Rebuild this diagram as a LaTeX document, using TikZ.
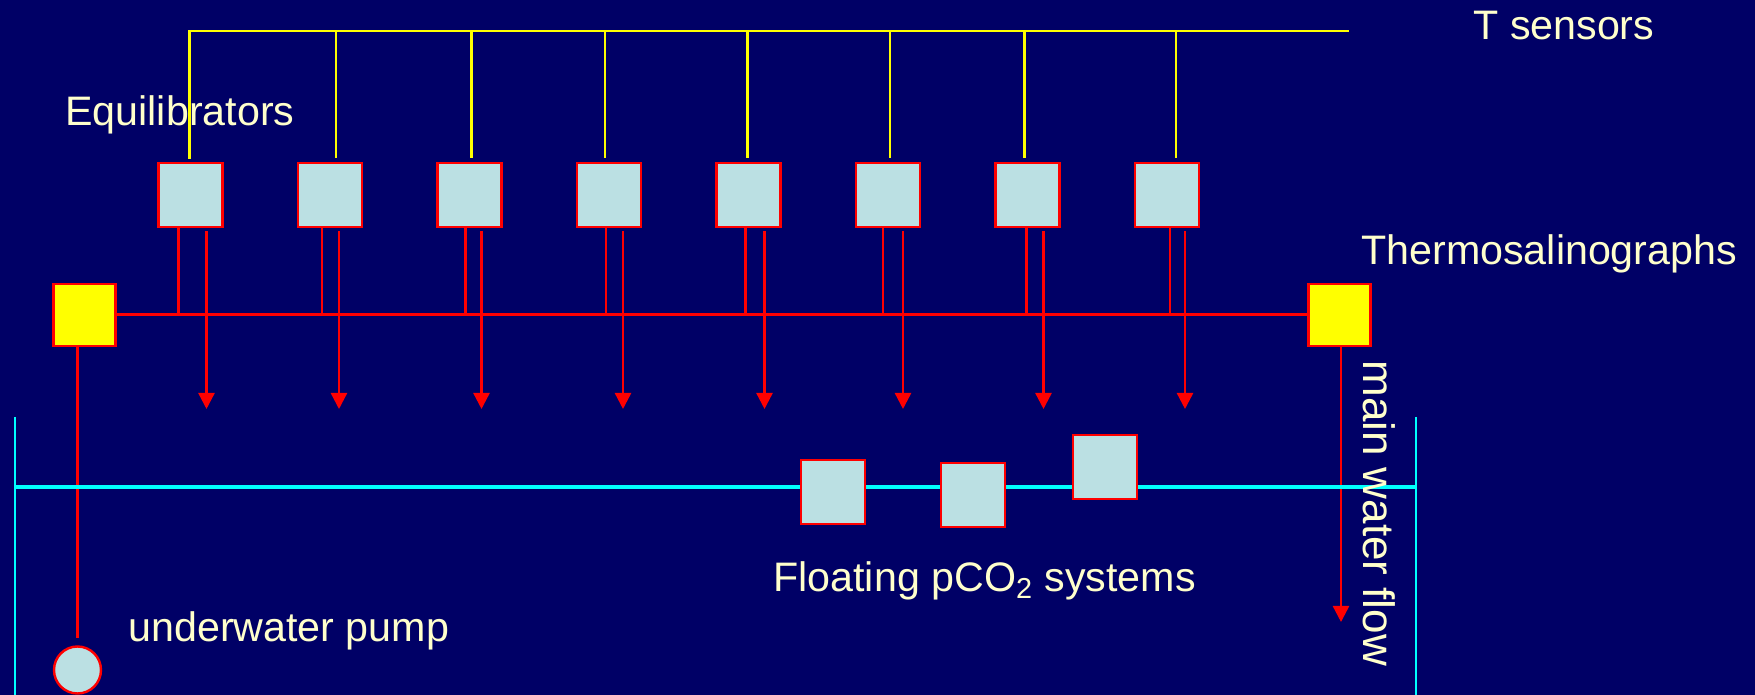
\documentclass[tikz,border=0pt]{standalone}
\usepackage{fontspec}
\setmainfont{Liberation Sans}
\usepackage{tikz}
\usetikzlibrary{arrows.meta}

\definecolor{slide}{RGB}{0,0,102}
\definecolor{boxblue}{RGB}{187,224,227}
\definecolor{cream}{RGB}{255,255,204}
\definecolor{pipered}{RGB}{255,0,0}
\definecolor{sensoryellow}{RGB}{255,255,0}
\definecolor{tankcyan}{RGB}{0,255,255}

\tikzset{
  eqbox/.style={draw=pipered,line width=1.2pt,fill=boxblue,minimum size=32pt,inner sep=0pt},
  tsgbox/.style={draw=pipered,line width=1.2pt,fill=sensoryellow,minimum size=31pt,inner sep=0pt},
  pumpball/.style={circle,draw=pipered,line width=1.2pt,fill=boxblue,minimum size=23.5pt,inner sep=0pt},
  tline/.style={draw=sensoryellow,line width=1.3pt},
  pipe/.style={draw=pipered,line width=1.5pt},
  drop/.style={draw=pipered,line width=1.1pt},
  flow/.style={draw=pipered,line width=1.2pt,-{Triangle[width=8pt,length=8pt]}},
  tank/.style={draw=tankcyan,line width=1.1pt},
  txt/.style={text=cream,anchor=base west,inner sep=0pt}
}

\begin{document}
\begin{tikzpicture}[x=0.5pt,y=0.5pt,font=\fontsize{20.6}{24}\selectfont]
  \fill[slide] (0,0) rectangle (1755,695);
  \useasboundingbox (0,0) rectangle (1755,695);

  % equilibrators and thermosalinographs
  \foreach \i in {1,...,8}{\node[eqbox] (eq\i) at ({51+139.5*\i},500) {};}
  \node[tsgbox] (tsgL) at (84.5,380) {};
  \node[tsgbox] (tsgR) at (1339.5,380) {};
  \node[pumpball] (pump) at (77.5,25) {};

  \coordinate (tbus) at (1349,664);
  \coordinate (drain) at (0,286);
  \coordinate (outlet) at (0,73);

  % T sensors
  \draw[tline] ([xshift=-0.5pt,yshift=1.5pt]eq1.north) |- (tbus);
  \foreach \i/\d in {2/3,3/1,4/-2,5/-0.5,6/1,7/-1.5,8/4.5}
    \draw[tline] ([xshift=\d pt,yshift=2pt]eq\i.north) -- ([xshift=\d pt]eq\i.north |- tbus);

  % water lines
  \draw[pipe] (tsgL.east) -- (tsgR.west);
  \foreach \i/\t/\a in {1/-6/8,2/-4/4.5,3/-2/6,4/-1.5/7,5/-1.5/8,6/-2.5/7.5,7/-0.5/8,8/1.5/9}{
    \draw[drop] ([xshift=\t pt]eq\i.south) -- ([xshift=\t pt]eq\i.south |- tsgL.east);
    \draw[flow] ([xshift=\a pt,yshift=-1.5pt]eq\i.south) -- ([xshift=\a pt]eq\i.south |- drain);
  }
  \draw[pipe] (tsgL.south -| pump) -- ([yshift=3.5pt]pump.north);
  \draw[flow] ([xshift=0.75pt]tsgR.south) -- ([xshift=0.75pt]tsgR.south |- outlet);

  % tank
  \draw[tank] (15,278) -- (15,0);
  \draw[tank,line width=1.6pt] (15,208) -- (1416,208);
  \draw[tank] (1416,278) -- (1416,0);

  % floating systems
  \node[eqbox] (fl1) at (833,203) {};
  \node[eqbox] (fl2) at (973,200) {};
  \node[eqbox] (fl3) at (1105,228) {};

  % labels
  \node[txt] (tsens) at (1473,655) {T sensors};
  \node[txt] (equil) at (65,569) {Equilibrators};
  \node[txt] (thermo) at (1361,430) {Thermosalinographs};
  \node[txt] (pumptxt) at (128,53) {underwater pump};
  \node[txt] (floattxt) at (773,103) {Floating pCO\textsubscript{2} systems};
  \node[txt,rotate=-90,font=\fontsize{22}{26}\selectfont] (flowtxt) at (1363,335) {main water flow};
\end{tikzpicture}
\end{document}
